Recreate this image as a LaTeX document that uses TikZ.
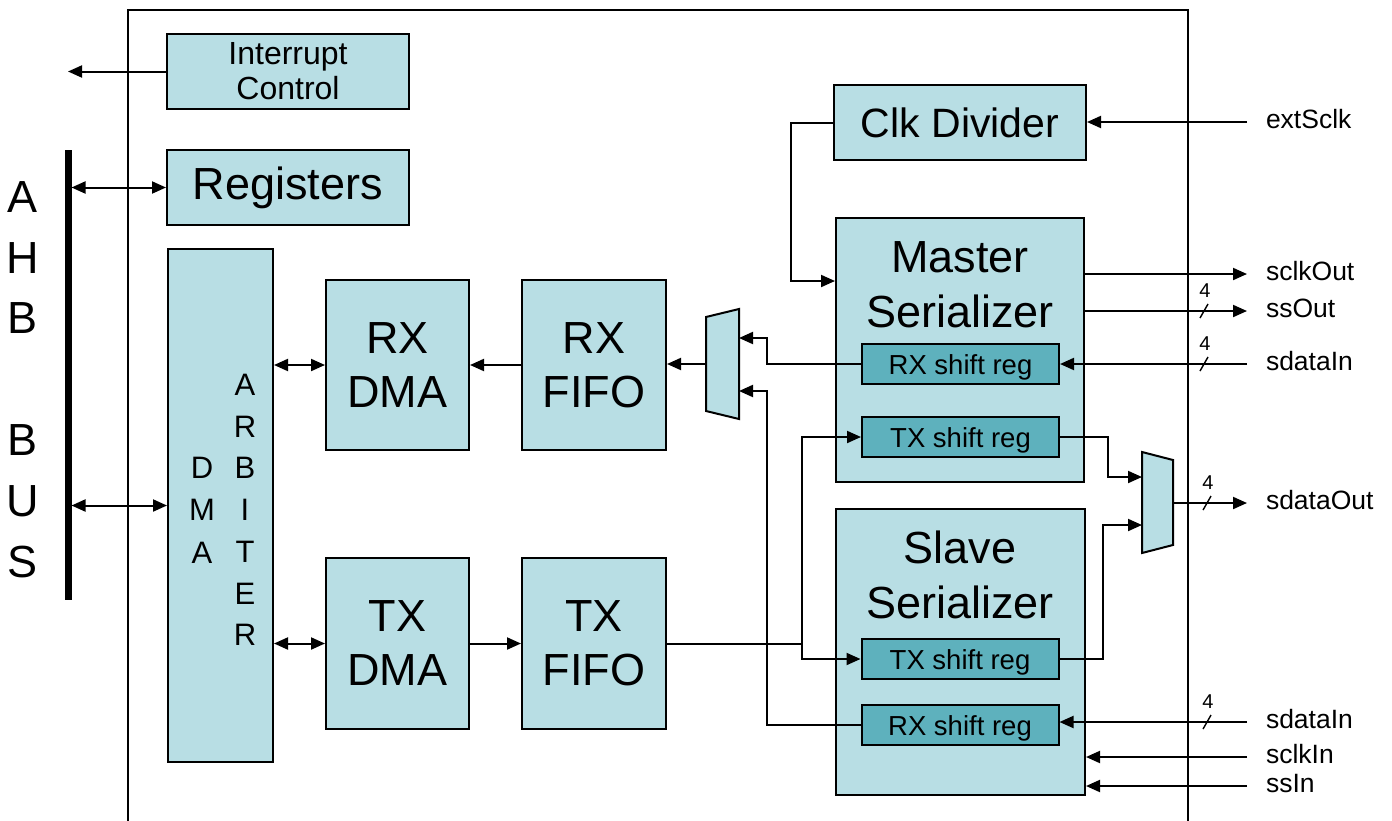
\documentclass[tikz,border=0pt]{standalone}
\usepackage{fontspec}
\setmainfont{Liberation Sans}
\usetikzlibrary{arrows.meta,calc}
\definecolor{boxblue}{RGB}{184,222,228}
\definecolor{regteal}{RGB}{94,177,189}

\begin{document}
\begin{tikzpicture}[x=1pt, y=-1pt, line width=2pt,
    arr/.style={-{Triangle[length=14pt,width=12pt]}},
    both/.style={{Triangle[length=14pt,width=12pt]}-{Triangle[length=14pt,width=12pt]}},
    blk/.style={draw, fill=boxblue, inner sep=0pt, align=center, font=\fontsize{45}{54}\selectfont},
    bigtxt/.style={align=center, inner sep=0pt, font=\fontsize{45}{55}\selectfont},
    sreg/.style={draw, fill=regteal, inner sep=0pt, minimum width=197pt, minimum height=40pt,
      text height=20pt, text depth=0pt, font=\fontsize{27.5}{30}\selectfont},
    sig/.style={anchor=west, inner xsep=18pt, inner ysep=0pt, text height=13pt, text depth=0pt,
      font=\fontsize{26.5}{30}\selectfont},
    letters/.style={align=center, inner sep=0pt}]
  \useasboundingbox (0,0) rectangle (1392,820);

  % outer frame and AHB bus
  \draw (128,830) |- (1188,10) -- (1188,830);
  \coordinate (bustop) at (68,150);
  \coordinate (busbot) at (68,600);
  \draw[line width=7pt] (bustop) -- (busbot);
  \node[letters, font=\fontsize{45}{60.8}\selectfont] (ahbtxt) at (23,379.5) {A\\H\\B\\\mbox{}\\B\\U\\S};

  % left column
  \node[blk, minimum width=242pt, minimum height=75pt, font=\fontsize{32}{35}\selectfont] (intr) at (288,71.5) {Interrupt\\Control};
  \node[blk, minimum width=242pt, minimum height=75pt] (regs) at (288,187.5) {Registers};
  \node[blk, minimum width=105pt, minimum height=513pt] (arb) at (220.5,505.5) {};
  \node[letters, font=\fontsize{31}{42.5}\selectfont] (arbdma) at (202,510) {D\\M\\A};
  \node[letters, font=\fontsize{31}{41.7}\selectfont] (arbname) at (245,510) {A\\R\\B\\I\\T\\E\\R};

  % DMA and FIFO blocks
  \node[blk, minimum width=143pt, minimum height=170pt] (rxdma) at (397.5,365) {RX\\DMA};
  \node[blk, minimum width=144pt, minimum height=170pt] (rxfifo) at (594,365) {RX\\FIFO};
  \node[blk, minimum width=143pt, minimum height=171pt] (txdma) at (397.5,643.5) {TX\\DMA};
  \node[blk, minimum width=144pt, minimum height=171pt] (txfifo) at (594,643.5) {TX\\FIFO};

  % serializers
  \node[blk, minimum width=252pt, minimum height=75pt, font=\fontsize{41}{45}\selectfont] (clkdiv) at (960,122.5) {Clk Divider};
  \node[blk, minimum width=248pt, minimum height=264pt] (master) at (960,350) {};
  \node[bigtxt] (mastername) at (960,284.5) {Master\\Serializer};
  \node[sreg] (mrx) at (960.5,364) {RX shift reg};
  \node[sreg] (mtx) at (960.5,437) {TX shift reg};
  \node[blk, minimum width=249pt, minimum height=286pt] (slave) at (960.5,652) {};
  \node[bigtxt] (slavename) at (960,575) {Slave\\Serializer};
  \node[sreg] (stx) at (960,659) {TX shift reg};
  \node[sreg] (srx) at (960,725) {RX shift reg};

  % muxes
  \draw[fill=boxblue] (706,317) -- (739,309) -- (739,419) -- (706,411) -- cycle;
  \coordinate (rxmuxout) at (706,364);
  \coordinate (rxmuxa) at (739,338);
  \coordinate (rxmuxb) at (739,391);
  \draw[fill=boxblue] (1142,452) -- (1173,460) -- (1173,545) -- (1142,553) -- cycle;
  \coordinate (txmuxa) at (1142,477);
  \coordinate (txmuxb) at (1142,525);
  \coordinate (txmuxout) at (1173,503);

  % bus side
  \draw[arr] (intr.west) -- (bustop |- intr.west);
  \draw[both, shorten <=3.5pt] (bustop |- regs.west) -- (regs.west);
  \draw[both, shorten <=3.5pt] (bustop |- arb.west) -- (arb.west);
  \draw[both] (arb.east |- rxdma.west) -- (rxdma.west);
  \draw[both] (arb.east |- txdma.west) -- (txdma.west);

  % data path
  \draw[arr] (rxfifo.west) -- (rxdma.east);
  \draw[arr] (txdma.east) -- (txfifo.west);
  \draw[arr] (rxmuxout) -- (rxmuxout -| rxfifo.east);
  \draw[arr] (mrx.west) -- ++(-94,0) |- (rxmuxa);
  \draw[arr] (srx.west) -- ++(-94,0) |- (rxmuxb);
  \coordinate (txsplit) at ($(txfifo.east)+(135,0)$);
  \draw (txfifo.east) -- (txsplit);
  \draw[arr] (txsplit) |- (mtx.west);
  \draw[arr] (txsplit) |- (stx.west);
  \draw[arr] (mtx.east) -- ++(48,0) |- (txmuxa);
  \draw[arr] (stx.east) -- ++(43,0) |- (txmuxb);
  \draw[arr] (clkdiv.west) -- ++(-42,0) |- ($(master.north west)+(0,64)$);

  % external signals
  \node[sig] (extsclk) at (1247,122) {extSclk};
  \node[sig] (sclkout) at (1247,274) {sclkOut};
  \node[sig] (ssout) at (1247,311) {ssOut};
  \node[sig] (mdin) at (1247,364) {sdataIn};
  \node[sig] (sdout) at (1247,503) {sdataOut};
  \node[sig] (sdin) at (1247,722) {sdataIn};
  \node[sig] (sclkin) at (1247,757) {sclkIn};
  \node[sig] (ssin) at (1247,786) {ssIn};
  \draw[arr] (extsclk.west) -- (clkdiv.east |- extsclk.west);
  \draw[arr] (master.east |- sclkout.west) -- (sclkout.west);
  \draw[arr] (master.east |- ssout.west) -- (ssout.west);
  \draw[arr] (mdin.west) -- (mrx.east |- mdin.west);
  \draw[arr] (txmuxout) -- (sdout.west);
  \draw[arr] (sdin.west) -- (srx.east |- sdin.west);
  \draw[arr] (sclkin.west) -- (slave.east |- sclkin.west);
  \draw[arr] (ssin.west) -- (slave.east |- ssin.west);

  % bus width marks
  \foreach \sx/\sy in {1204/311, 1204/364, 1207/503, 1207/722} {
    \draw[line width=1.4pt] (\sx-4,\sy+7) -- (\sx+4,\sy-7);
    \node[inner sep=0pt, font=\fontsize{20}{22}\selectfont] (width\sy) at (\sx+1,\sy-20) {4};
  }
\end{tikzpicture}
\end{document}
